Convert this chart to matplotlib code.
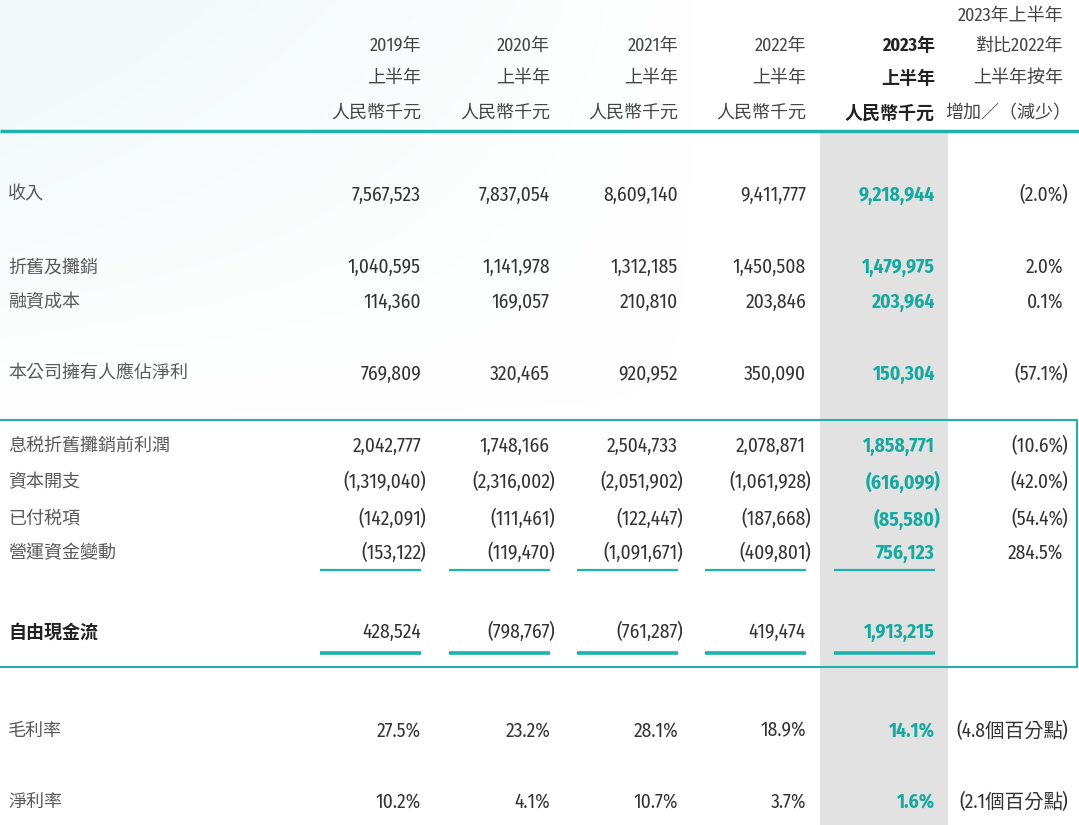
import numpy as np
import matplotlib.pyplot as plt
from matplotlib.patches import Rectangle

NUM_FONT = ['Fira Sans Condensed', 'Liberation Sans', 'Noto Sans CJK TC', 'DejaVu Sans']
CJK = ['Noto Sans CJK TC', 'DejaVu Sans']
plt.rcParams['font.family'] = NUM_FONT

# ---- data ----
years = ['2019年', '2020年', '2021年', '2022年', '2023年']
row_labels = ['收入', '折舊及攤銷', '融資成本', '本公司擁有人應佔淨利',
              '息税折舊攤銷前利潤', '資本開支', '已付税項', '營運資金變動', '自由現金流']
h1_2019 = [7567523, 1040595, 114360, 769809, 2042777, -1319040, -142091, -153122, 428524]
h1_2020 = [7837054, 1141978, 169057, 320465, 1748166, -2316002, -111461, -119470, -798767]
h1_2021 = [8609140, 1312185, 210810, 920952, 2504733, -2051902, -122447, -1091671, -761287]
h1_2022 = [9411777, 1450508, 203846, 350090, 2078871, -1061928, -187668, -409801, 419474]
h1_2023 = [9218944, 1479975, 203964, 150304, 1858771, -616099, -85580, 756123, 1913215]
yoy_pct = [-2.0, 2.0, 0.1, -57.1, -10.6, -42.0, -54.4, 284.5, None]

margin_labels = ['毛利率', '淨利率']
gross_margin = [27.5, 23.2, 28.1, 18.9, 14.1]
net_margin = [10.2, 4.1, 10.7, 3.7, 1.6]
margin_change = [-4.8, -2.1]

# ---- layout ----
TEAL = '#1db3ac'
TEAL_TXT = '#15aaa1'
GREY_TXT = '#5a5a5a'
NUM_TXT = '#333333'
FS = 14        # numbers
FS_CJK = 13    # chinese labels

col_x = [421, 550, 678, 806, 935]
chg_x = 1063
row_y = [195, 267, 302, 374, 446, 482, 519, 553, 632]
margin_y = [731, 802]

fig = plt.figure(figsize=(10.79, 8.25), dpi=100)
ax = fig.add_axes([0, 0, 1, 1])
ax.set_xlim(0, 1079)
ax.set_ylim(825, 0)
ax.axis('off')

# faint background wash top-left
gx = np.linspace(1, 0, 200)
gy = np.linspace(1, 0, 120)
wash = np.clip(np.outer(gy, gx) * 1.4, 0, 1)
img = np.zeros((120, 200, 4))
img[..., 0] = 0.91
img[..., 1] = 0.96
img[..., 2] = 0.96
img[..., 3] = wash * 0.5
ax.imshow(img, extent=[0, 700, 420, 0], aspect='auto', zorder=0)

# highlighted 2023 column
ax.add_patch(Rectangle((820, 133), 128, 700, facecolor='#e2e2e2', edgecolor='none', zorder=1))


def put(x, y, value_str, neg, **kw):
    # accounting style: closing bracket hangs right of the column edge
    if neg:
        ax.text(x, y, '(' + value_str, ha='right', va='center', **kw)
        ax.text(x - 1.5, y, ')', ha='left', va='center', **kw)
    else:
        ax.text(x, y, value_str, ha='right', va='center', **kw)


# header
for i, yr in enumerate(years):
    bold = i == 4
    c = '#222222' if bold else '#444444'
    w = 'bold' if bold else 'normal'
    ax.text(col_x[i], 46, yr, ha='right', va='center', fontsize=FS_CJK, color=c, fontweight=w, zorder=3)
    ax.text(col_x[i], 78, '上半年', ha='right', va='center', fontsize=FS_CJK, color=c,
            fontweight=w, family=CJK, zorder=3)
    ax.text(col_x[i], 113, '人民幣千元', ha='right', va='center', fontsize=FS_CJK, color=c,
            fontweight=w, family=CJK, zorder=3)
chg_head = ['2023年上半年', '對比2022年', '上半年按年', '增加／（減少）']
for t, yy in zip(chg_head, [16, 46, 78, 113]):
    fam = CJK if t.startswith('增') else None
    ax.text(chg_x + (8 if t.endswith('）') else 0), yy, t, ha='right', va='center',
            fontsize=FS_CJK, color='#444444', family=fam, zorder=3)

ax.plot([0, 1079], [131, 131], color=TEAL, lw=2.5, solid_capstyle='butt', zorder=2)

# amount rows
cols = [h1_2019, h1_2020, h1_2021, h1_2022, h1_2023]
for r, (lab, y) in enumerate(zip(row_labels, row_y)):
    bold = lab == '自由現金流'
    ax.text(8, y, lab, ha='left', va='center', fontsize=FS_CJK, family=CJK,
            color='#222222' if bold else GREY_TXT, fontweight='bold' if bold else 'normal', zorder=3)
    for c, vals in enumerate(cols):
        v = vals[r]
        if c == 4:
            kw = dict(fontsize=FS, color=TEAL_TXT, fontweight='bold', zorder=3)
        else:
            kw = dict(fontsize=FS, color=NUM_TXT, zorder=3)
        put(col_x[c], y, f'{abs(v):,}', v < 0, **kw)
    p = yoy_pct[r]
    if p is not None:
        put(chg_x, y, f'{abs(p):.1f}%', p < 0, fontsize=FS, color=NUM_TXT, zorder=3)

# subtotal rules
for x in col_x:
    ax.plot([x - 101, x], [570, 570], color=TEAL, lw=1.6, solid_capstyle='butt', zorder=2)
    ax.plot([x - 101, x], [653, 653], color=TEAL, lw=2.6, solid_capstyle='butt', zorder=2)

# cash-flow box
ax.add_patch(Rectangle((-2, 420), 1079, 247, facecolor='none', edgecolor=TEAL, lw=1.5, zorder=2))

# margin rows
for lab, y, vals, ch in zip(margin_labels, margin_y, [gross_margin, net_margin], margin_change):
    ax.text(8, y, lab, ha='left', va='center', fontsize=FS_CJK, family=CJK, color=GREY_TXT, zorder=3)
    for c, v in enumerate(vals):
        if c == 4:
            kw = dict(fontsize=FS, color=TEAL_TXT, fontweight='bold', zorder=3)
        else:
            kw = dict(fontsize=FS, color=NUM_TXT, zorder=3)
        ax.text(col_x[c], y, f'{v:.1f}%', ha='right', va='center', **kw)
    put(chg_x, y, f'{abs(ch):.1f}個百分點', ch < 0, fontsize=FS, color=NUM_TXT, zorder=3)

fig.savefig('out.png', dpi=100, facecolor='white')
